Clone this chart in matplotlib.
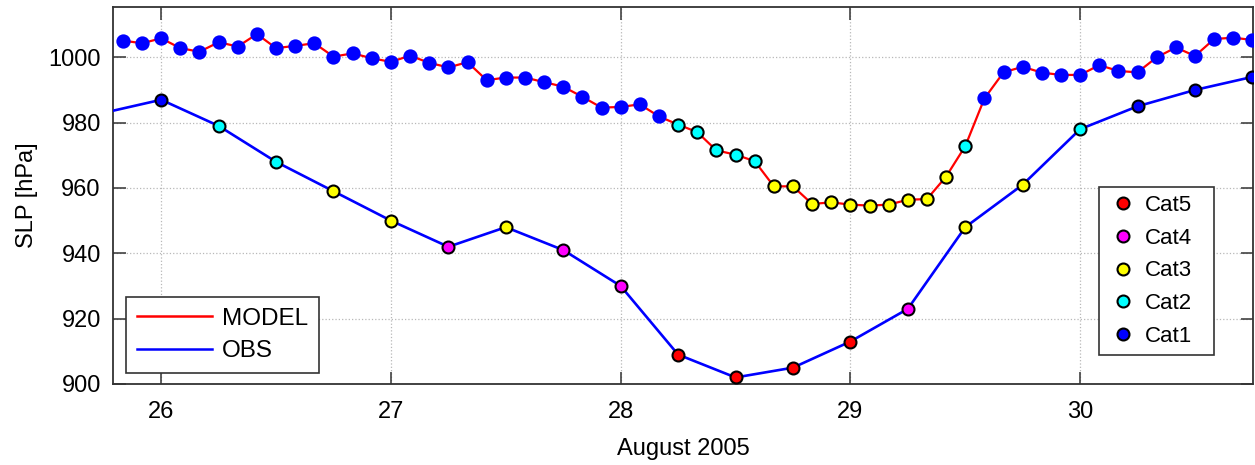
import numpy as np
import pandas as pd
import matplotlib
matplotlib.use('Agg')
import matplotlib.pyplot as plt
import matplotlib.dates as mdates
from matplotlib.lines import Line2D

plt.rcParams['font.family'] = ['Liberation Sans', 'DejaVu Sans']

# Katrina sea level pressure, model (2-hourly) vs best track (6-hourly)
model_times = pd.date_range('2005-08-25 20:00', periods=60, freq='2h')
model_slp = [
    1005.1, 1004.3, 1005.8, 1002.8, 1001.7, 1004.6, 1003.3, 1007.1, 1002.8, 1003.5,
    1004.3, 1000.2, 1001.2, 999.7, 998.6, 1000.5, 998.3, 996.9, 998.5, 993.0,
    993.8, 993.8, 992.4, 991.0, 987.9, 984.6, 984.8, 985.6, 981.9, 979.4,
    977.1, 971.5, 970.2, 968.2, 960.5, 960.5, 955.1, 955.6, 954.9, 954.6,
    954.9, 956.4, 956.6, 963.5, 972.8, 987.4, 995.4, 997.1, 995.3, 994.6,
    994.6, 997.6, 995.8, 995.4, 1000.0, 1003.0, 1000.4, 1005.6, 1006.0, 1005.3,
]

obs_times = pd.date_range('2005-08-25 18:00', '2005-08-30 18:00', freq='6h')
obs_slp = [983, 987, 979, 968, 959, 950, 942, 948, 941, 930, 909,
           902, 905, 913, 923, 948, 961, 978, 985, 990, 994]

# Saffir-Simpson pressure thresholds (hPa)
cat_bounds = [920, 945, 965, 980]
cat_names = ['Cat5', 'Cat4', 'Cat3', 'Cat2', 'Cat1']
cat_colors = ['red', 'magenta', 'yellow', 'cyan', 'blue']


def category_index(slp):
    # 0 -> Cat5 ... 4 -> Cat1
    return np.digitize(np.asarray(slp), cat_bounds)


fig = plt.figure(figsize=(12.55, 4.65), dpi=100)
ax = fig.add_axes([0.0903, 0.1742, 0.9083, 0.8101])

ax.plot(model_times, model_slp, color='red', lw=1.6, zorder=3)
ax.plot(obs_times, obs_slp, color='blue', lw=1.9, zorder=3)

mcat = category_index(model_slp)
ocat = category_index(obs_slp)
mt = np.array(model_times)
ot = np.array(obs_times)
mv = np.array(model_slp)
ov = np.array(obs_slp)
for i, col in enumerate(cat_colors):
    sel = mcat == i
    if sel.any():
        edge = col if cat_names[i] == 'Cat1' else 'black'
        ax.plot(mt[sel], mv[sel], 'o', ls='none', ms=8.8, mfc=col, mec=edge,
                mew=1.5, zorder=4)
    sel = ocat == i
    if sel.any():
        ax.plot(ot[sel], ov[sel], 'o', ls='none', ms=8.6, mfc=col, mec='black',
                mew=1.5, zorder=4)

ax.set_xlim(pd.Timestamp('2005-08-25 19:00'), pd.Timestamp('2005-08-30 18:05'))
ax.set_ylim(900, 1015.3)
ax.set_yticks(np.arange(900, 1001, 20))
ax.xaxis.set_major_locator(mdates.DayLocator())
ax.xaxis.set_major_formatter(mdates.DateFormatter('%d'))

ax.grid(True, ls=':', color='#b8b8b8', lw=0.9)
ax.tick_params(direction='in', length=9, width=1.1, color='#333333',
               top=True, right=True, labelsize=17)
ax.tick_params(axis='x', pad=12)
ax.tick_params(axis='y', pad=9)
for sp in ax.spines.values():
    sp.set_color('#333333')
    sp.set_linewidth(1.3)

ax.set_xlabel('August 2005', fontsize=17, labelpad=11)
ax.set_ylabel('SLP [hPa]', fontsize=17)
ax.yaxis.set_label_coords(-0.066, 0.5)

line_handles = [Line2D([], [], color='red', lw=1.8), Line2D([], [], color='blue', lw=1.8)]
leg1 = ax.legend(line_handles, ['MODEL', 'OBS'], loc='upper left',
                 bbox_to_anchor=(126 / 1255, 1 - 296.7 / 465), bbox_transform=fig.transFigure,
                 fontsize=17.5, handlelength=3.1, handletextpad=0.4, labelspacing=0.43,
                 borderpad=0.45, borderaxespad=0, fancybox=False, framealpha=1,
                 edgecolor='#333333')
leg1.get_frame().set_linewidth(1.2)
ax.add_artist(leg1)

cat_handles = [Line2D([], [], marker='o', ls='none', ms=8.6, mfc=c, mec='black', mew=1.5)
               for c in cat_colors]
leg2 = ax.legend(cat_handles, cat_names, loc='upper left',
                 bbox_to_anchor=(1099.3 / 1255, 1 - 187.3 / 465, 115 / 1255, 0.0),
                 bbox_transform=fig.transFigure, mode='expand',
                 fontsize=16, handlelength=1.45, handletextpad=0.25, labelspacing=0.53,
                 borderpad=0.34, borderaxespad=0, fancybox=False, framealpha=1,
                 edgecolor='#333333')
leg2.get_frame().set_linewidth(1.2)

fig.savefig('out.png', dpi=100)
